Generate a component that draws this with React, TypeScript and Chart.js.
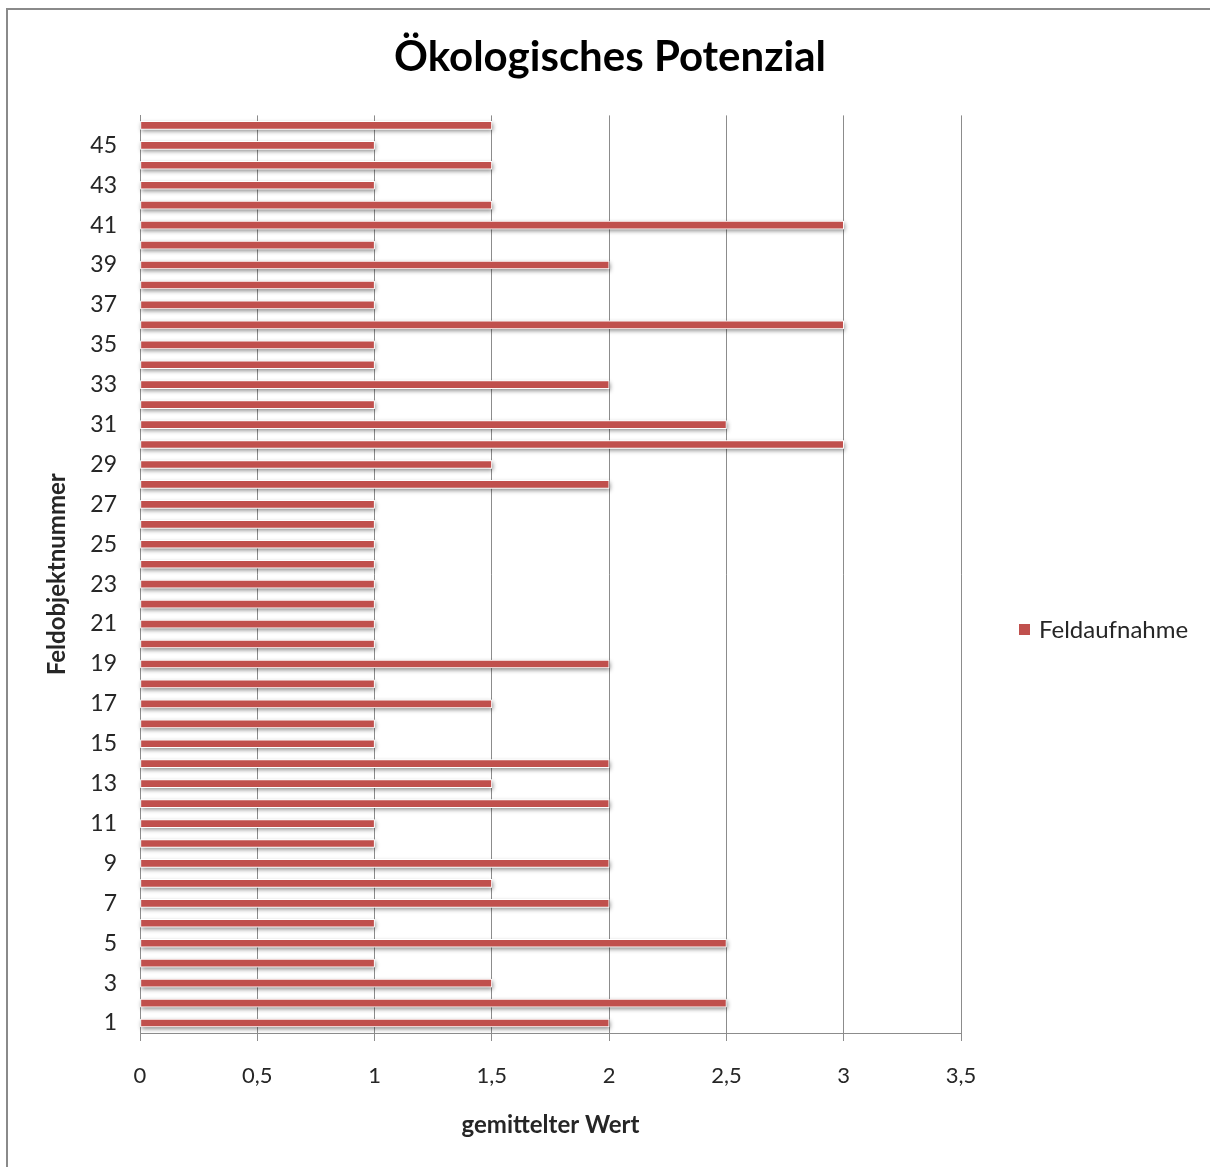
import React, { useEffect, useRef } from "react";
import { Chart, registerables } from "chart.js";

Chart.register(...registerables);

const TITLE = "Ökologisches Potenzial";
const SERIES_NAME = "Feldaufnahme";
const X_TITLE = "gemittelter Wert";
const Y_TITLE = "Feldobjektnummer";

const categories = [
  "1", "2", "3", "4", "5", "6", "7", "8", "9", "10",
  "11", "12", "13", "14", "15", "16", "17", "18", "19", "20",
  "21", "22", "23", "24", "25", "26", "27", "28", "29", "30",
  "31", "32", "33", "34", "35", "36", "37", "38", "39", "40",
  "41", "42", "43", "44", "45", "46",
];

const values = [
  2, 2.5, 1.5, 1, 2.5, 1, 2, 1.5, 2, 1,
  1, 2, 1.5, 2, 1, 1, 1.5, 1, 2, 1,
  1, 1, 1, 1, 1, 1, 1, 2, 1.5, 3,
  2.5, 1, 2, 1, 1, 3, 1, 1, 2, 1,
  3, 1.5, 1, 1.5, 1, 1.5,
];

const xMin = 0;
const xMax = 3.5;
const xStep = 0.5;

const BAR_COLOR = "#C0504D";
const FONT = "Lato, 'Open Sans', sans-serif";

const shadowPlugin = {
  id: "barShadow",
  beforeDatasetsDraw(chart: any) {
    const ctx = chart.ctx;
    const meta = chart.getDatasetMeta(0);
    ctx.save();
    ctx.shadowColor = "rgba(0,0,0,0.45)";
    ctx.shadowBlur = 4;
    ctx.shadowOffsetX = 1;
    ctx.shadowOffsetY = 2;
    ctx.fillStyle = "#ffffff";
    meta.data.forEach((el: any) => {
      const p = el.getProps(["x", "y", "base", "height"], true);
      const left = Math.min(p.base, p.x);
      const w = Math.abs(p.x - p.base);
      ctx.fillRect(left, p.y - p.height / 2, w, p.height);
    });
    ctx.restore();
  },
};

const legendPlugin = {
  id: "customLegend",
  afterDraw(chart: any) {
    const ctx = chart.ctx;
    ctx.save();
    ctx.fillStyle = BAR_COLOR;
    ctx.fillRect(1019, 624, 11, 11);
    ctx.fillStyle = "#262626";
    ctx.font = `24px ${FONT}`;
    ctx.textBaseline = "middle";
    ctx.textAlign = "left";
    ctx.fillText(SERIES_NAME, 1039, 630);
    ctx.restore();
  },
};

export default function App() {
  const canvasRef = useRef<HTMLCanvasElement | null>(null);

  useEffect(() => {
    if (!canvasRef.current) return;
    const chart = new Chart(canvasRef.current, {
      type: "bar",
      data: {
        labels: categories,
        datasets: [
          {
            label: SERIES_NAME,
            data: values,
            backgroundColor: BAR_COLOR,
            borderColor: "#ffffff",
            borderWidth: 1,
            borderSkipped: false,
            barThickness: 8,
          },
        ],
      },
      options: {
        indexAxis: "y",
        animation: false,
        responsive: false,
        maintainAspectRatio: false,
        layout: { padding: { left: 10, right: 0, top: 0, bottom: 20 } },
        plugins: {
          legend: { display: false },
          tooltip: { enabled: false },
          title: {
            display: true,
            text: TITLE,
            color: "#000000",
            font: { family: FONT, size: 42, weight: "bold", lineHeight: 1.2 },
            padding: { top: 32, bottom: 33 },
          },
        },
        scales: {
          x: {
            type: "linear",
            min: xMin,
            max: xMax,
            afterFit: (s: any) => {
              s.height = 114;
            },
            ticks: {
              stepSize: xStep,
              color: "#262626",
              padding: 22,
              font: { family: FONT, size: 22, lineHeight: 1.2 },
              callback: (v: any) => String(v).replace(".", ","),
            },
            grid: {
              color: "#8c8c8c",
              lineWidth: 1,
              drawTicks: true,
              tickLength: 8,
            },
            border: { color: "#8c8c8c", width: 1 },
            title: {
              display: true,
              text: X_TITLE,
              color: "#262626",
              font: { family: FONT, size: 24, weight: "bold", lineHeight: 1.2 },
              padding: { top: 0, bottom: 7 },
            },
          },
          y: {
            type: "category",
            reverse: true,
            afterFit: (s: any) => {
              s.width = 130;
            },
            ticks: {
              autoSkip: false,
              color: "#262626",
              padding: 23,
              font: { family: FONT, size: 23, lineHeight: 1.2 },
              callback: (_v: any, i: number) => (i % 2 === 0 ? categories[i] : ""),
            },
            grid: { display: false, drawTicks: false },
            border: { display: true, color: "#8c8c8c", width: 1 },
            title: {
              display: true,
              text: Y_TITLE,
              color: "#262626",
              font: { family: FONT, size: 24, weight: "bold", lineHeight: 1.2 },
              padding: { top: 33, bottom: 0 },
            },
          },
          rightSpace: {
            type: "linear",
            position: "right",
            display: true,
            afterFit: (s: any) => {
              s.width = 249;
            },
            ticks: { display: false },
            grid: { display: false, drawTicks: false },
            border: { display: false },
          },
        },
      },
      plugins: [shadowPlugin, legendPlugin],
    } as any);
    return () => chart.destroy();
  }, []);

  return (
    <div style={{ position: "absolute", left: 0, top: 0, width: 1210, height: 1167, background: "#fff", overflow: "hidden" }}>
      <div
        style={{
          position: "absolute",
          left: 6,
          top: 8,
          width: 1300,
          height: 1300,
          borderLeft: "2px solid #8a8a8a",
          borderTop: "2px solid #8a8a8a",
        }}
      />
      <canvas ref={canvasRef} width={1210} height={1167} style={{ position: "absolute", left: 0, top: 0 }} />
    </div>
  );
}
